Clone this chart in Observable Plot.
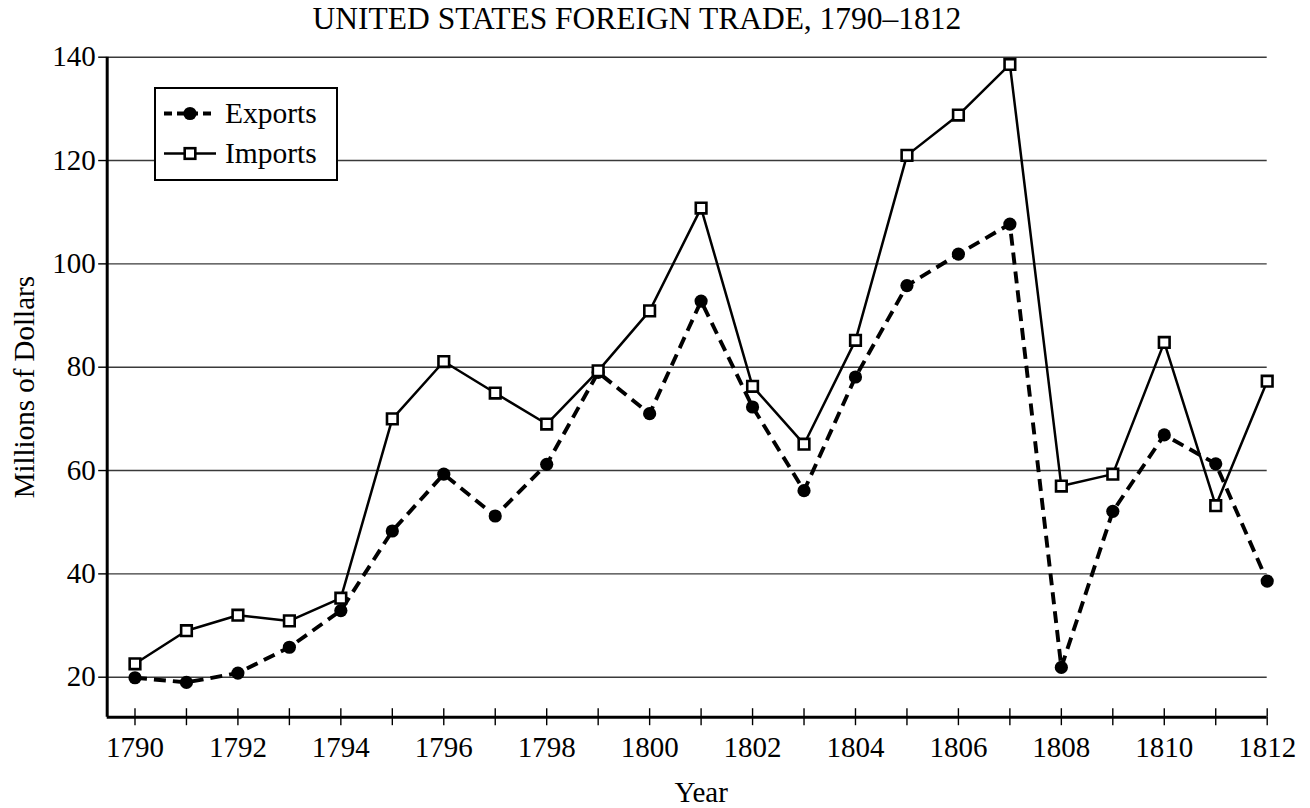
<!DOCTYPE html>
<html>
<head>
<meta charset="utf-8">
<script src="https://cdn.jsdelivr.net/npm/d3@7"></script>
<script src="https://cdn.jsdelivr.net/npm/@observablehq/plot@0.6"></script>
<style>
  html, body { margin: 0; padding: 0; background: #fff; overflow: hidden; }
  #wrap { position: relative; width: 1310px; height: 808px; font-family: "Liberation Serif", "Times New Roman", serif; color: #000; }
  #title { height: 40px; line-height: 37px; font-size: 31.5px; text-align: center; padding-right: 36px; white-space: nowrap; }
  #legend { position: absolute; left: 154px; top: 87px; width: 184px; height: 94px; box-sizing: border-box; border: 2.6px solid #000; background: #fff; }
  #legend svg { position: absolute; left: -2.6px; top: -2.6px; overflow: visible; }
</style>
</head>
<body>
<div id="wrap">
  <div id="title"></div>
  <div id="chart"></div>
  <div id="legend"></div>
</div>
<script>
// ---- data ----
const titleText = "UNITED STATES FOREIGN TRADE, 1790–1812";
const years = [1790,1791,1792,1793,1794,1795,1796,1797,1798,1799,1800,1801,1802,1803,1804,1805,1806,1807,1808,1809,1810,1811,1812];
const exportsValues = [19.9,19.0,20.8,25.8,32.9,48.3,59.3,51.2,61.2,79.0,71.0,92.8,72.3,56.1,78.1,95.8,101.9,107.7,21.9,52.1,66.9,61.3,38.6];
const importsValues = [22.6,29.0,32.0,30.9,35.3,70.0,81.1,75.0,69.0,79.3,90.9,110.8,76.3,65.1,85.2,121.0,128.8,138.6,57.0,59.3,84.8,53.2,77.3];
const seriesNames = ["Exports", "Imports"];
const yTicks = [20,40,60,80,100,120,140];
const xLabel = "Year";
const yLabel = "Millions of Dollars";

// ---- build ----
document.getElementById("title").textContent = titleText;

const exportsData = years.map((year, i) => ({year, value: exportsValues[i]}));
const importsData = years.map((year, i) => ({year, value: importsValues[i]}));

const xDomain = [1789.46, 1812];
const yDomain = [12.26, 140];
const midYear = (years[0] + years[years.length - 1]) / 2;
const FS = 29;

const chart = Plot.plot({
  width: 1310,
  height: 768,
  marginLeft: 106.7,
  marginRight: 43.3,
  marginTop: 16.7,
  marginBottom: 91.3,
  x: {domain: xDomain},
  y: {domain: yDomain},
  style: {fontFamily: "'Liberation Serif', 'Times New Roman', serif", fontSize: FS + "px", color: "#000", background: "#fff", overflow: "visible"},
  marks: [
    Plot.gridY(yTicks, {stroke: "#3a3a3a", strokeOpacity: 1, strokeWidth: 1.4}),
    Plot.axisY(yTicks, {tickSize: 8.5, tickPadding: 3, label: null, fontSize: FS, strokeWidth: 1.4, tickFormat: d => String(d)}),
    Plot.axisX(years, {tickSize: 8.5, tickPadding: 11, label: null, fontSize: FS, strokeWidth: 1.4, tickFormat: d => (d % 2 === 0 ? String(d) : "")}),
    Plot.axisX(years, {tickSize: -8.5, tickPadding: 0, label: null, strokeWidth: 1.4, tickFormat: () => ""}),
    Plot.ruleX([xDomain[0]], {stroke: "#000", strokeWidth: 3}),
    Plot.ruleY([yDomain[0]], {stroke: "#000", strokeWidth: 3}),
    Plot.line(exportsData, {x: "year", y: "value", stroke: "#000", strokeWidth: 3.9, strokeDasharray: "12,7", strokeLinecap: "butt", strokeLinejoin: "miter"}),
    Plot.line(importsData, {x: "year", y: "value", stroke: "#000", strokeWidth: 2.5, strokeLinejoin: "miter"}),
    Plot.dot(exportsData, {x: "year", y: "value", r: 6.6, fill: "#000", stroke: "none"}),
    Plot.dot(importsData, {x: "year", y: "value", r: 6.0, symbol: "square", fill: "#fff", stroke: "#000", strokeWidth: 2.6}),
    Plot.text([xLabel], {x: midYear, frameAnchor: "bottom", lineAnchor: "bottom", textAnchor: "middle", dy: 84.3, fontSize: FS, fill: "#000"}),
    Plot.text([yLabel], {frameAnchor: "left", lineAnchor: "bottom", textAnchor: "middle", rotate: -90, dx: -73.4, fontSize: FS, fill: "#000"})
  ]
});
document.getElementById("chart").appendChild(chart);

// ---- legend ----
const ns = "http://www.w3.org/2000/svg";
const lg = document.createElementNS(ns, "svg");
lg.setAttribute("width", 184);
lg.setAttribute("height", 94);
const rowsY = [27.5, 67.5];
seriesNames.forEach((name, i) => {
  const g = document.createElementNS(ns, "g");
  const ln = document.createElementNS(ns, "line");
  ln.setAttribute("x1", 11); ln.setAttribute("x2", 63);
  ln.setAttribute("y1", rowsY[i]); ln.setAttribute("y2", rowsY[i]);
  ln.setAttribute("stroke", "#000");
  if (i === 0) {
    ln.setAttribute("stroke-width", 3.9);
    ln.setAttribute("stroke-dasharray", "8,5");
  } else {
    ln.setAttribute("stroke-width", 2.5);
  }
  g.appendChild(ln);
  if (i === 0) {
    const c = document.createElementNS(ns, "circle");
    c.setAttribute("cx", 37); c.setAttribute("cy", rowsY[i]); c.setAttribute("r", 6.6);
    c.setAttribute("fill", "#000");
    g.appendChild(c);
  } else {
    const s = 10.6;
    const r = document.createElementNS(ns, "rect");
    r.setAttribute("x", 37 - s / 2); r.setAttribute("y", rowsY[i] - s / 2);
    r.setAttribute("width", s); r.setAttribute("height", s);
    r.setAttribute("fill", "#fff"); r.setAttribute("stroke", "#000"); r.setAttribute("stroke-width", 2.6);
    g.appendChild(r);
  }
  const t = document.createElementNS(ns, "text");
  t.setAttribute("x", 72); t.setAttribute("y", rowsY[i] + 9);
  t.setAttribute("font-family", "'Liberation Serif', 'Times New Roman', serif");
  t.setAttribute("font-size", 29.5);
  t.setAttribute("fill", "#000");
  t.textContent = name;
  g.appendChild(t);
  lg.appendChild(g);
});
document.getElementById("legend").appendChild(lg);
</script>
</body>
</html>
